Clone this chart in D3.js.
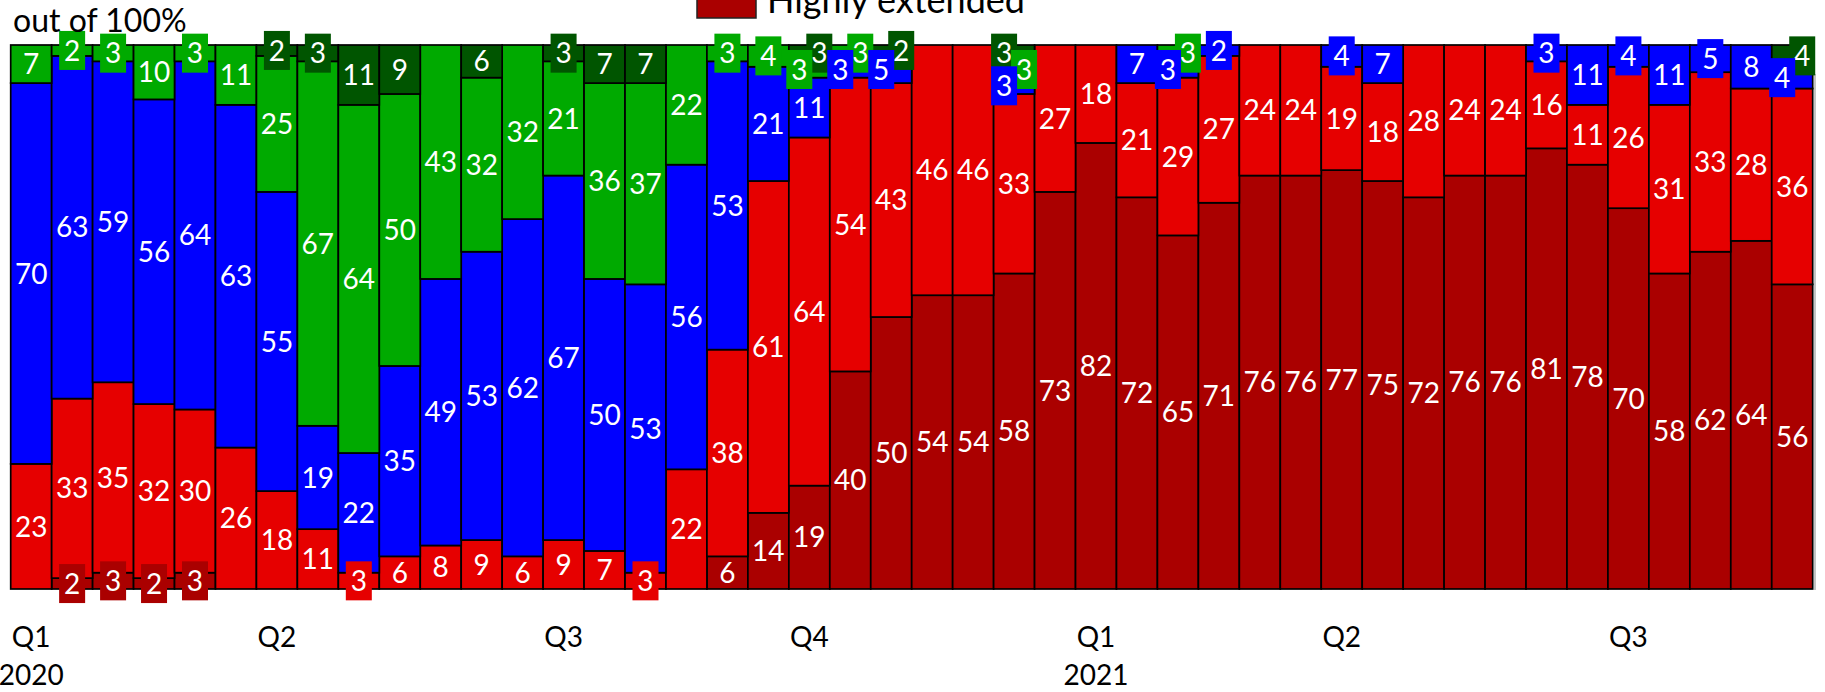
<!DOCTYPE html>
<html>
<head>
<meta charset="utf-8">
<script src="https://cdn.jsdelivr.net/npm/d3@7"></script>
<style>
  html, body { margin: 0; padding: 0; background: #fff; overflow: hidden; }
  svg { display: block; }
  text { font-family: Lato, "Open Sans", "Liberation Sans", sans-serif; }
</style>
</head>
<body>
<svg id="chart" width="1825" height="692"></svg>
<script>
// ---- data ----
const periods = d3.range(1, 45).map(d => "P" + d);
const seriesKeys = ["highly", "s2", "s3", "s4", "s5"];
const legendLabel = "Highly extended";
const highlyExtended = [0,2,3,2,3,0,0,0,0,0,0,0,0,0,0,0,0,6,14,19,40,50,54,54,58,73,82,72,65,71,76,76,77,75,72,76,76,81,78,70,58,62,64,56];
const series2 = [23,33,35,32,30,26,18,11,3,6,8,9,6,9,7,3,22,38,61,64,54,43,46,46,33,27,18,21,29,27,24,24,19,18,28,24,24,16,11,26,31,33,28,36];
const series3 = [70,63,59,56,64,63,55,19,22,35,49,53,62,67,50,53,56,53,21,11,3,5,0,0,3,0,0,7,3,2,0,0,4,7,0,0,0,3,11,4,11,5,8,4];
const series4 = [7,2,3,10,3,11,25,67,64,50,43,32,32,21,36,37,22,3,4,3,3,0,0,0,3,0,0,0,3,0,0,0,0,0,0,0,0,0,0,0,0,0,0,0];
const series5 = [0,0,0,0,0,0,2,3,11,9,0,6,0,3,7,7,0,0,0,3,0,2,0,0,3,0,0,0,0,0,0,0,0,0,0,0,0,0,0,0,0,0,0,4];
const colors = ["#aa0000", "#e60000", "#0000ff", "#00aa00", "#005500"];
const quarterLabels = ["Q1","Q2","Q3","Q4","Q1","Q2","Q3"];
const quarterStarts = ["P1","P7","P14","P20","P27","P33","P40"];
const yearLabels = ["2020","2021"];
const yearStarts = ["P1","P27"];
const unitLabel = "out of 100%";

// ---- build ----
const seriesValues = [highlyExtended, series2, series3, series4, series5];
const rows = periods.map((p, i) => {
  const r = { period: p };
  seriesKeys.forEach((k, j) => r[k] = seriesValues[j][i]);
  return r;
});
const stacked = d3.stack().keys(seriesKeys)(rows);

const svg = d3.select("#chart");
const x = d3.scaleBand().domain(periods).range([10.7, 1812.7]).padding(0);
const y = d3.scaleLinear().domain([0, 100]).range([589, 45]);
const color = d3.scaleOrdinal().domain(seriesKeys).range(colors);

// right gray edge
svg.append("line").attr("x1", 1815).attr("x2", 1815).attr("y1", 74).attr("y2", 590)
  .attr("stroke", "#b0b0b0").attr("stroke-width", 1.5);

// bars
svg.append("g").selectAll("g").data(stacked).join("g")
  .attr("fill", d => color(d.key))
  .selectAll("rect").data(d => d.filter(s => s[1] - s[0] > 0)).join("rect")
  .attr("x", d => x(d.data.period))
  .attr("width", x.bandwidth())
  .attr("y", d => y(d[1]))
  .attr("height", d => y(d[0]) - y(d[1]))
  .attr("stroke", "#000")
  .attr("stroke-width", 1.7);

// labels
const labels = [];
periods.forEach((p, i) => {
  let run = [];
  const flush = () => {
    if (run.length > 1) run.forEach((l, k) => l.dx = (k % 2 === 0 ? -10 : 10));
    run = [];
  };
  stacked.forEach((s, j) => {
    const v = seriesValues[j][i];
    if (v <= 0) return;
    const l = { period: p, key: s.key, v, y0: s[i][0], y1: s[i][1], small: v <= 5, dx: 0, order: j };
    labels.push(l);
    if (l.small) run.push(l); else flush();
  });
  flush();
});
labels.sort((a, b) => b.order - a.order);

const lg = svg.append("g");
const items = lg.selectAll("g").data(labels).join("g")
  .attr("transform", d => `translate(${x(d.period) + x.bandwidth() / 2 + d.dx},${(y(d.y0) + y(d.y1)) / 2})`);
items.filter(d => d.small).append("rect")
  .attr("x", d => -(String(d.v).length * 15.5 + 10.5) / 2)
  .attr("width", d => String(d.v).length * 15.5 + 10.5)
  .attr("y", -19.5).attr("height", 39)
  .attr("fill", d => color(d.key));
items.append("text")
  .attr("text-anchor", "middle")
  .attr("dy", "0.36em")
  .attr("fill", "#fff")
  .attr("font-size", 28)
  .text(d => d.v);

// x axis: quarters
const qMap = new Map(quarterStarts.map((p, i) => [p, quarterLabels[i]]));
const yMap = new Map(yearStarts.map((p, i) => [p, yearLabels[i]]));
const axQ = svg.append("g").attr("transform", "translate(0,589)")
  .call(d3.axisBottom(x).tickValues(quarterStarts).tickSize(0).tickPadding(0).tickFormat(p => qMap.get(p)));
axQ.select(".domain").remove();
axQ.selectAll("text").attr("font-size", 28).attr("fill", "#000").attr("y", 58).attr("dy", 0)
  .style("font-family", "Lato, 'Open Sans', sans-serif");
const axY = svg.append("g").attr("transform", "translate(0,589)")
  .call(d3.axisBottom(x).tickValues(yearStarts).tickSize(0).tickPadding(0).tickFormat(p => yMap.get(p)));
axY.select(".domain").remove();
axY.selectAll("text").attr("font-size", 28).attr("fill", "#000").attr("y", 96).attr("dy", 0)
  .style("font-family", "Lato, 'Open Sans', sans-serif");

// unit label
svg.append("text").attr("x", 13).attr("y", 32).attr("font-size", 32).attr("fill", "#000").text(unitLabel);

// legend (only last entry visible in frame)
const leg = svg.append("g");
leg.append("rect").attr("x", 697).attr("y", -20).attr("width", 59).attr("height", 38)
  .attr("fill", colors[0]).attr("stroke", "#222").attr("stroke-width", 1.5);
leg.append("text").attr("x", 767).attr("y", 13).attr("font-size", 36).attr("fill", "#000").text(legendLabel);
</script>
</body>
</html>
